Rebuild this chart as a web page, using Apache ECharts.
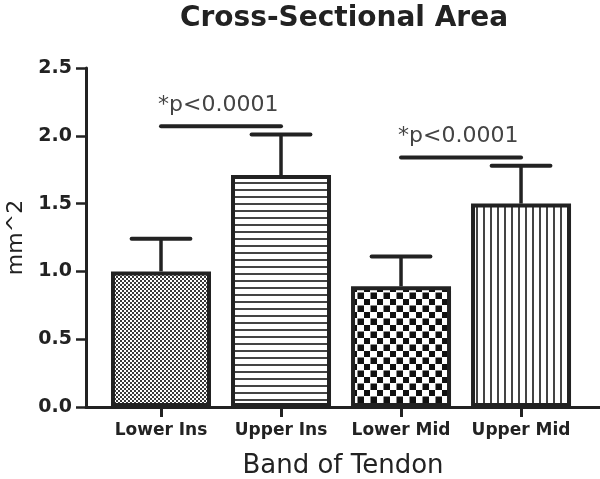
<!DOCTYPE html>
<html>
<head>
<meta charset="utf-8">
<script src="https://cdn.jsdelivr.net/npm/echarts@6/dist/echarts.min.js"></script>
<style>html,body{margin:0;padding:0;background:#fff}#c{width:600px;height:479px}</style>
</head>
<body>
<div id="c"></div>
<script>
// ---- data ----
const categories = ['Lower Ins', 'Upper Ins', 'Lower Mid', 'Upper Mid'];
const means = [1.00, 1.71, 0.89, 1.50];
const errors = [0.24, 0.30, 0.22, 0.28];
const sigFrom = [0, 2];
const sigTo = [1, 3];
const sigY = [2.07, 1.84];
const sigText = ['*p<0.0001', '*p<0.0001'];
const patternKinds = ['fine', 'hlines', 'checker', 'vlines'];

const FONT = 'DejaVu Sans';
const INK = '#222';

function makePattern(kind) {
  const c = document.createElement('canvas');
  const g = c.getContext('2d');
  if (kind === 'fine') {
    c.width = 4; c.height = 4;
    g.fillStyle = '#fff'; g.fillRect(0, 0, 4, 4);
    g.fillStyle = '#3a3a3a';
    g.fillRect(0, 0, 2, 2); g.fillRect(2, 2, 2, 2);
  } else if (kind === 'hlines') {
    c.width = 8; c.height = 7;
    g.fillStyle = '#fff'; g.fillRect(0, 0, 8, 7);
    g.fillStyle = '#444'; g.fillRect(0, 0, 8, 2);
  } else if (kind === 'checker') {
    c.width = 13; c.height = 13;
    g.fillStyle = '#fff'; g.fillRect(0, 0, 13, 13);
    g.fillStyle = '#111';
    g.fillRect(0, 0, 6, 6); g.fillRect(6.5, 6.5, 6.5, 6.5);
  } else {
    c.width = 7; c.height = 8;
    g.fillStyle = '#fff'; g.fillRect(0, 0, 7, 8);
    g.fillStyle = '#444'; g.fillRect(0, 0, 2, 8);
  }
  return { image: c, repeat: 'repeat' };
}

const chart = echarts.init(document.getElementById('c'), null, { renderer: 'canvas' });
const tickIdx = categories.map((_, i) => i);

chart.setOption({
  animation: false,
  backgroundColor: '#fff',
  title: {
    text: 'Cross-Sectional Area',
    left: 175, top: 0,
    textStyle: { fontFamily: FONT, fontWeight: 'bold', fontSize: 28, color: INK }
  },
  grid: { left: 86, right: 0, top: 68, bottom: 72, containLabel: false, outerBoundsMode: 'none' },
  xAxis: {
    type: 'value',
    min: -0.625, max: 3.658,
    splitLine: { show: false },
    axisLine: { show: true, onZero: false, lineStyle: { color: INK, width: 3 } },
    axisTick: { show: true, customValues: tickIdx, length: 10, lineStyle: { color: INK, width: 3 } },
    axisLabel: {
      customValues: tickIdx,
      formatter: v => categories[Math.round(v)] || '',
      margin: 15,
      fontFamily: FONT, fontWeight: 'bold', fontSize: 17, color: INK
    },
    name: 'Band of Tendon',
    nameLocation: 'middle',
    nameGap: 46,
    nameTextStyle: { fontFamily: FONT, fontSize: 26, color: INK }
  },
  yAxis: {
    type: 'value',
    min: 0, max: 2.5, interval: 0.5,
    splitLine: { show: false },
    axisLine: { show: true, onZero: false, lineStyle: { color: INK, width: 3 } },
    axisTick: { show: true, length: 10, lineStyle: { color: INK, width: 2.5 } },
    axisLabel: {
      formatter: v => v.toFixed(1),
      margin: 14,
      fontFamily: FONT, fontWeight: 'bold', fontSize: 19, color: INK
    },
    name: 'mm^2',
    nameLocation: 'middle',
    nameGap: 58,
    nameRotate: 90,
    nameTextStyle: { fontFamily: FONT, fontSize: 22, color: INK }
  },
  series: [
    {
      type: 'bar',
      barWidth: 100,
      z: 2,
      data: means.map((v, i) => ({
        value: [i, v],
        itemStyle: { color: makePattern(patternKinds[i]), borderColor: INK, borderWidth: 4 }
      }))
    },
    {
      type: 'custom',
      z: 3,
      encode: { x: 0, y: [1, 2] },
      data: means.map((v, i) => [i, v, v + errors[i]]),
      renderItem: function (params, api) {
        const x = api.value(0), lo = api.value(1), hi = api.value(2);
        const p1 = api.coord([x, lo]);
        const p2 = api.coord([x, hi]);
        const half = api.size([0.245, 0])[0];
        return {
          type: 'group',
          children: [
            { type: 'line', shape: { x1: p1[0], y1: p1[1], x2: p2[0], y2: p2[1] },
              style: { stroke: INK, lineWidth: 3.5 } },
            { type: 'line', shape: { x1: p2[0] - half, y1: p2[1], x2: p2[0] + half, y2: p2[1] },
              style: { stroke: INK, lineWidth: 4, lineCap: 'round' } }
          ]
        };
      }
    },
    {
      type: 'custom',
      z: 4,
      encode: { x: [0, 1], y: 2 },
      data: sigFrom.map((a, i) => [a, sigTo[i], sigY[i]]),
      renderItem: function (params, api) {
        const y = api.value(2);
        const p1 = api.coord([api.value(0), y]);
        const p2 = api.coord([api.value(1), y]);
        return {
          type: 'group',
          children: [
            { type: 'line', shape: { x1: p1[0], y1: p1[1], x2: p2[0], y2: p2[1] },
              style: { stroke: INK, lineWidth: 4, lineCap: 'round' } },
            { type: 'text',
              style: { text: sigText[params.dataIndex], x: p1[0] - 3, y: p1[1] - 21,
                       align: 'left', verticalAlign: 'middle',
                       fill: '#444', fontFamily: FONT, fontSize: 22 } }
          ]
        };
      }
    }
  ]
});
</script>
</body>
</html>
